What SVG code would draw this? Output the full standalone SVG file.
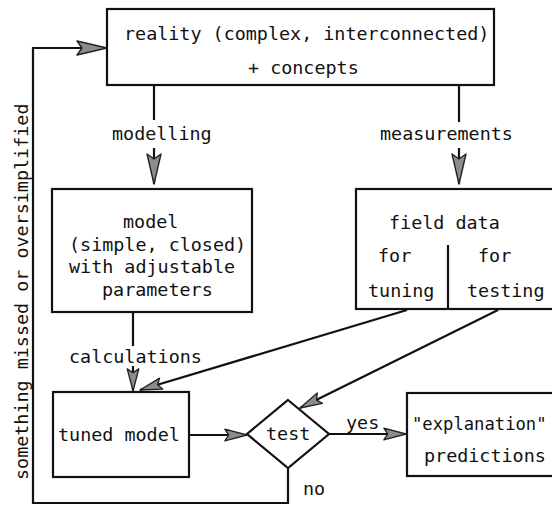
<svg xmlns="http://www.w3.org/2000/svg" width="552" height="505" viewBox="0 0 552 505">
  <style>
    .box { fill: #fff; stroke: #111; stroke-width: 2.2; }
    .ln { fill: none; stroke: #111; stroke-width: 2.2; }
    text { font-family: "DejaVu Sans Mono", "Liberation Mono", monospace; font-size: 18.4px; fill: #111; }
    .tight { font-size: 17.2px; }
  </style>
  <defs>
    <marker id="arrow" markerUnits="userSpaceOnUse" markerWidth="34" markerHeight="18" refX="30" refY="0" viewBox="-2 -9 34 18" orient="auto">
      <path d="M0,-7 L30,0 L0,7 L5,0 Z" fill="#8c8c8c" stroke="#222" stroke-width="1.4" stroke-linejoin="round"/>
    </marker>
    <marker id="arrowS" markerUnits="userSpaceOnUse" markerWidth="26" markerHeight="16" refX="23" refY="0" viewBox="-2 -8 27 16" orient="auto">
      <path d="M0,-6 L23,0 L0,6 L4,0 Z" fill="#8c8c8c" stroke="#222" stroke-width="1.4" stroke-linejoin="round"/>
    </marker>
  </defs>

  <g id="connectors">
    <!-- reality to model -->
    <line class="ln" x1="154" y1="85" x2="154" y2="120"/>
    <line class="ln" x1="154" y1="148" x2="154" y2="184" marker-end="url(#arrow)"/>
    <!-- reality to field data -->
    <line class="ln" x1="459" y1="85" x2="459" y2="122"/>
    <line class="ln" x1="459" y1="148" x2="459" y2="184" marker-end="url(#arrow)"/>
    <!-- model to tuned model -->
    <line class="ln" x1="133" y1="312" x2="133" y2="346"/>
    <line class="ln" x1="133" y1="366" x2="133" y2="391" marker-end="url(#arrowS)"/>
    <!-- field data (tuning) to tuned model -->
    <line class="ln" x1="407" y1="310" x2="140" y2="390" marker-end="url(#arrowS)"/>
    <!-- field data (testing) to test -->
    <line class="ln" x1="498" y1="310" x2="300" y2="408" marker-end="url(#arrowS)"/>
    <!-- tuned model to test -->
    <line class="ln" x1="189" y1="435" x2="247" y2="435" marker-end="url(#arrowS)"/>
    <!-- test yes -->
    <line class="ln" x1="329" y1="434" x2="406" y2="434" marker-end="url(#arrowS)"/>
    <!-- test no: feedback loop -->
    <path class="ln" d="M288,468 L288,503 L33,503 L33,48 L107,48" marker-end="url(#arrow)"/>
  </g>

  <g id="edge-labels">
    <text x="112" y="140">modelling</text>
    <text x="380" y="140">measurements</text>
    <text x="69" y="363">calculations</text>
    <text x="346" y="429">yes</text>
    <text x="303" y="495">no</text>
    <text transform="translate(28,480) rotate(-90)">something missed or oversimplified</text>
  </g>

  <g id="reality">
    <rect class="box" x="107" y="9" width="387" height="76"/>
    <text x="124" y="40">reality (complex, interconnected)</text>
    <text x="248" y="74">+ concepts</text>
  </g>

  <g id="model">
    <rect class="box" x="52" y="189" width="200" height="123"/>
    <text x="123" y="228">model</text>
    <text x="69" y="251">(simple, closed)</text>
    <text x="69" y="273">with adjustable</text>
    <text x="102" y="296">parameters</text>
  </g>

  <g id="field-data">
    <rect class="box" x="356" y="189" width="210" height="120"/>
    <line class="ln" x1="448" y1="245" x2="448" y2="309"/>
    <text x="389" y="229">field data</text>
    <text x="378" y="262">for</text>
    <text x="478" y="262">for</text>
    <text x="368" y="297">tuning</text>
    <text x="467" y="297">testing</text>
  </g>

  <g id="tuned-model">
    <rect class="box" x="53" y="392" width="136" height="85"/>
    <text x="58" y="441">tuned model</text>
  </g>

  <g id="test">
    <polygon class="box" points="288,400 329,434 288,468 247,434"/>
    <text x="266" y="440">test</text>
  </g>

  <g id="outcome">
    <rect class="box" x="407" y="393" width="160" height="83"/>
    <text class="tight" x="412" y="430">"explanation"</text>
    <text x="424" y="462">predictions</text>
  </g>
</svg>
